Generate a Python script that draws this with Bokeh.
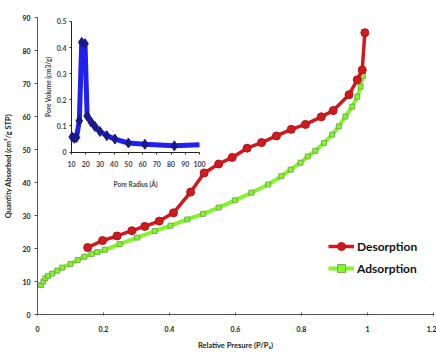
import math
from bokeh.plotting import figure
from bokeh.models import Range1d, LinearAxis, FixedTicker, Legend, LegendItem, Label
from bokeh.embed import file_html
from bokeh.resources import INLINE

# ---- data ----
des_p = [0.152, 0.197, 0.241, 0.286, 0.325, 0.369, 0.412, 0.464, 0.505, 0.549, 0.59, 0.635,
         0.679, 0.724, 0.769, 0.812, 0.86, 0.896, 0.944, 0.969, 0.984, 0.992]
des_q = [20.3, 22.4, 23.8, 25.4, 26.7, 28.3, 30.8, 37.1, 42.9, 45.6, 47.6, 50.4,
         52.1, 54.1, 56.1, 57.6, 59.9, 61.8, 66.6, 71.1, 74.1, 85.4]
ads_p = [0.011, 0.018, 0.024, 0.032, 0.045, 0.06, 0.075, 0.1, 0.122, 0.142, 0.164, 0.181,
         0.204, 0.249, 0.302, 0.355, 0.403, 0.454, 0.502, 0.549, 0.598, 0.648, 0.699, 0.739,
         0.767, 0.797, 0.819, 0.842, 0.868, 0.893, 0.913, 0.933, 0.954, 0.969, 0.979, 0.986]
ads_q = [8.9, 10.0, 11.0, 11.7, 12.4, 13.3, 14.2, 15.3, 16.5, 17.5, 18.3, 18.9,
         19.6, 21.3, 23.3, 25.3, 26.9, 28.8, 30.5, 32.4, 34.6, 36.9, 39.4, 41.9,
         43.9, 46.0, 47.9, 49.6, 52.0, 54.5, 57.0, 60.0, 63.0, 66.0, 69.0, 72.3]
pore_r = [10.5, 12.0, 13.5, 15.5, 17.2, 19.5, 21.0, 23.8, 26.5, 30.0, 34.8, 40.5, 50.0, 61.6, 82.3, 100.0]
pore_v = [0.058, 0.053, 0.056, 0.12, 0.42, 0.415, 0.138, 0.115, 0.098, 0.079, 0.063, 0.05, 0.035, 0.03, 0.024, 0.028]

x_ticks = [0, 0.2, 0.4, 0.6, 0.8, 1, 1.2]
x_tick_labels = ["0", "0.2", "0.4", "0.6", "0.8", "1", "1.2"]
y_ticks = [0, 10, 20, 30, 40, 50, 60, 70, 80, 90]
in_x_ticks = [10, 20, 30, 40, 50, 60, 70, 80, 90, 100]
in_y_ticks = [0, 0.1, 0.2, 0.3, 0.4, 0.5]
in_y_labels = ["0", "0.1", "0.2", "0.3", "0.4", "0.5"]

RED = "#d11a1f"
GREEN = "#84f52c"
BLUE = "#2020f0"
FONT = "Lato"

p = figure(width=436, height=352, output_backend="svg", toolbar_location=None,
           x_range=Range1d(0, 1.2), y_range=Range1d(0, 90),
           min_border_left=37, min_border_right=3, min_border_top=17, min_border_bottom=35,
           x_axis_label="Relative Presure (P/P\u2080)",
           y_axis_label="Quantity Absorbed (cm\u00b3/g STP)")
p.grid.visible = False
p.outline_line_color = None

for ax in (p.xaxis[0], p.yaxis[0]):
    ax.axis_line_color = "#555555"
    ax.major_tick_line_color = "#555555"
    ax.minor_tick_line_color = None
    ax.major_label_text_font = FONT
    ax.major_label_text_font_style = "bold"
    ax.major_label_text_font_size = "7px"
    ax.major_label_text_color = "#222222"
    ax.axis_label_text_font = FONT
    ax.axis_label_text_font_style = "bold"
    ax.axis_label_text_font_size = "7.5px"
    ax.axis_label_text_color = "#222222"

p.xaxis[0].ticker = FixedTicker(ticks=x_ticks)
p.xaxis[0].major_label_overrides = {t: l for t, l in zip(x_ticks, x_tick_labels)}
p.xaxis[0].major_tick_out = 1
p.xaxis[0].major_tick_in = 2
p.xaxis[0].major_label_standoff = 10
p.xaxis[0].axis_label_standoff = 6
p.yaxis[0].ticker = FixedTicker(ticks=y_ticks)
p.yaxis[0].major_tick_out = 3
p.yaxis[0].major_tick_in = 0
p.yaxis[0].major_label_standoff = 4
p.yaxis[0].axis_label_standoff = 6

# main series
r_ads_l = p.line(ads_p, ads_q, line_color=GREEN, line_width=4)
r_ads_s = p.scatter(ads_p, ads_q, marker="square", size=5, fill_color=GREEN,
                    line_color="#6b9a4a", line_width=0.8)
r_des_l = p.line(des_p, des_q, line_color=RED, line_width=3.5)
r_des_s = p.scatter(des_p, des_q, marker="circle", size=8, fill_color=RED,
                    line_color="#b01418", line_width=1)

legend = Legend(items=[LegendItem(label="Desorption", renderers=[r_des_l, r_des_s]),
                       LegendItem(label="Adsorption", renderers=[r_ads_l, r_ads_s])],
                location=(291, 36), glyph_width=26, glyph_height=20, label_height=20,
                spacing=2, padding=0, margin=0, label_standoff=3,
                border_line_color=None, background_fill_alpha=0,
                label_text_font=FONT, label_text_font_size="12px",
                label_text_font_style="bold", label_text_color="#111111")
p.add_layout(legend, "center")

# inset
p.extra_x_ranges = {"ix": Range1d(-13.9, 264.5)}
p.extra_y_ranges = {"iy": Range1d(-0.621, 0.515)}
p.line(pore_r, pore_v, x_range_name="ix", y_range_name="iy", line_color=BLUE, line_width=5)
p.scatter(pore_r[:-1], pore_v[:-1], x_range_name="ix", y_range_name="iy", marker="diamond",
          size=10, fill_color="#1a1a8a", line_color="#1a1a8a")

ixa = LinearAxis(x_range_name="ix", y_range_name="iy", fixed_location=0, bounds=(10, 100),
                 ticker=FixedTicker(ticks=in_x_ticks), axis_label="Pore Radius (\u00c5)")
iya = LinearAxis(x_range_name="ix", y_range_name="iy", fixed_location=10, bounds=(0, 0.5),
                 ticker=FixedTicker(ticks=in_y_ticks))
iya.major_label_overrides = {t: l for t, l in zip(in_y_ticks, in_y_labels)}
for ax in (ixa, iya):
    ax.axis_line_color = "#222222"
    ax.major_tick_line_color = "#222222"
    ax.minor_tick_line_color = None
    ax.major_tick_out = 2
    ax.major_tick_in = 0
    ax.major_label_text_font = FONT
    ax.major_label_text_font_style = "bold"
    ax.major_label_text_font_size = "7px"
    ax.axis_label_text_font = FONT
    ax.axis_label_text_font_style = "bold"
    ax.axis_label_text_font_size = "6.5px"
ixa.major_label_standoff = 7
ixa.axis_label_standoff = 10
iya.major_label_standoff = 3
p.add_layout(ixa, "below")
p.add_layout(iya, "left")

p.add_layout(Label(x=-6.2, y=0.25, x_range_name="ix", y_range_name="iy",
                   text="Pore Volume (cm3/g)", angle=math.pi / 2,
                   text_align="center", text_baseline="middle",
                   text_font=FONT, text_font_style="bold", text_font_size="6.5px"))

open("out.html", "w").write(file_html(p, INLINE))
